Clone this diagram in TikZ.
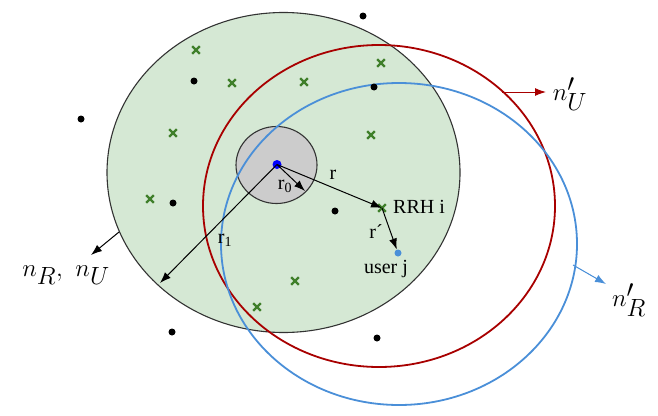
\documentclass[tikz,border=0pt]{standalone}
\usepackage{fontspec}
\setmainfont{Liberation Serif}
\usetikzlibrary{shapes.geometric,shapes.misc,arrows.meta}
\definecolor{lgreen}{HTML}{D5E8D4}
\definecolor{xgreen}{HTML}{3F7F2A}
\definecolor{dred}{HTML}{A80000}
\definecolor{lblue}{HTML}{4A8FD8}
\definecolor{ggrey}{HTML}{CCCCCC}
\tikzset{
  region/.style={ellipse,inner sep=0pt,draw},
  rrhx/.style={cross out,draw=xgreen,line width=2.2pt,minimum size=5.5pt,inner sep=0pt},
  udot/.style={circle,fill=black,minimum size=7pt,inner sep=0pt},
  arr/.style={-{Latex[length=11pt,width=8pt]},line width=1pt},
  txt/.style={font=\fontsize{20}{23}\selectfont,inner sep=0pt},
  mlab/.style={font=\fontsize{34}{40}\selectfont,inner sep=0pt}
}
\begin{document}
\begin{tikzpicture}[x=1pt,y=-1pt]
\useasboundingbox (0,0) rectangle (658,415);
% regions
\node[region,fill=lgreen,draw=black!80,line width=1.1pt,minimum width=353pt,minimum height=320pt] (green) at (283.5,172.5) {};
\node[region,fill=ggrey,draw=black!80,line width=1.1pt,minimum width=81pt,minimum height=77pt] (grey) at (276.5,165) {};
\node[region,draw=dred,line width=1.8pt,minimum width=352pt,minimum height=322pt] (red) at (379,206) {};
\node[region,draw=lblue,line width=1.8pt,minimum width=356pt,minimum height=322pt] (blue) at (399,244) {};
% crosses (RRHs)
\node[rrhx] (x1) at (196,50) {};
\node[rrhx] (x2) at (232,83) {};
\node[rrhx] (x3) at (304,82) {};
\node[rrhx] (x4) at (381,63) {};
\node[rrhx] (x5) at (173,133) {};
\node[rrhx] (x6) at (371,135) {};
\node[rrhx] (x7) at (150,199) {};
\node[rrhx] (rrh) at (382,208) {};
\node[rrhx] (x9) at (295,281) {};
\node[rrhx] (x10) at (257,307) {};
% black dots (users)
\node[udot] (d1) at (363,16) {};
\node[udot] (d2) at (194,81) {};
\node[udot] (d3) at (374,87) {};
\node[udot] (d4) at (81,119) {};
\node[udot] (d5) at (173,203) {};
\node[udot] (d6) at (335,211) {};
\node[udot] (d7) at (172,332) {};
\node[udot] (d8) at (377,338) {};
% centre and user j
\node[circle,fill=blue,minimum size=9pt,inner sep=0pt] (bs) at (277,164.5) {};
\node[circle,fill=lblue,minimum size=7pt,inner sep=0pt] (uj) at (398,253) {};
% radius end points
\coordinate (r0end) at (305,191);
\coordinate (r1end) at (160,283);
\draw[arr] (bs.center) -- (r0end);
\draw[arr] (bs.center) -- (r1end);
\draw[arr] (bs.center) -- (rrh.center);
\draw[arr] (rrh.center) -- (uj);
% labels
\node[txt] (lr) at (333,175) {r};
\node[txt] (lr0) at (285,186) {r\textsubscript{0}};
\node[txt] (lr1) at (225,240) {r\textsubscript{1}};
\node[txt] (lrp) at (376,232) {r´};
\node[txt,anchor=west] (lrrh) at (393,207) {RRH i};
\node[txt] (luj) at (386,269) {user j};
% outer labels and arrows
\coordinate (gA) at (119,232);
\coordinate (rA) at (502,92);
\coordinate (bA) at (573,265);
\node[mlab] (nRU) at (66,275) {$n_R,\ n_U$};
\node[mlab] (nU) at (570,94) {$n'_U$};
\node[mlab] (nR) at (629,300) {$n'_R$};
\draw[arr] (gA) -- (91,255);
\draw[arr,draw=dred,fill=dred] (rA) -- (546,92);
\draw[arr,draw=lblue,fill=lblue] (bA) -- (606,284);
\end{tikzpicture}
\end{document}
